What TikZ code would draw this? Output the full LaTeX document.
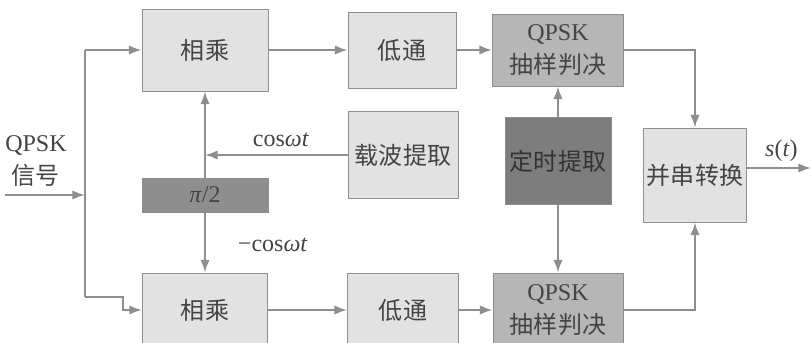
\documentclass[tikz,border=0pt]{standalone}
\usepackage{fontspec}
\setmainfont{Liberation Serif}
\newfontfamily\cjk{Noto Sans CJK SC}
\usetikzlibrary{arrows.meta,positioning,calc}
\definecolor{boxlight}{HTML}{E2E2E2}
\definecolor{boxmid}{HTML}{B6B6B6}
\definecolor{boxdark}{HTML}{7D7D7D}
\definecolor{boxphase}{HTML}{8E8E8E}
\definecolor{rulegray}{HTML}{8E8E8E}
\definecolor{inkgray}{HTML}{444444}
\newcommand\zh[1]{{\cjk #1}}

\begin{document}
\begin{tikzpicture}[
    x=0.03cm,y=-0.03cm,
    font=\fontsize{20.5}{28}\selectfont,
    text=inkgray,
    block/.style={draw=rulegray,line width=0.8pt,fill=boxlight,align=center,inner sep=0pt},
    decide/.style={block,fill=boxmid},
    arrow/.style={-{Latex[length=3.8mm,width=2.8mm]},line width=1.6pt,draw=rulegray},
    wire/.style={line width=1.6pt,draw=rulegray}
  ]
    \useasboundingbox (0,0) rectangle (811,343);

    \node[block,minimum width=3.78cm,minimum height=2.46cm] (m1) at (205,50) {\zh{相乘}};
    \node[block,minimum width=3.24cm,minimum height=2.28cm] (lp1) at (402,50) {\zh{低通}};
    \node[decide,minimum width=3.93cm,minimum height=2.16cm] (d1) at (558,50) {QPSK\\\zh{抽样判决}};
    \node[block,minimum width=3.3cm,minimum height=2.61cm] (car) at (403,155) {\zh{载波提取}};
    \node[block,fill=boxdark,text=black!80,minimum width=3.18cm,minimum height=2.61cm] (tim) at (558,161) {\zh{定时提取}};
    \node[block,fill=boxphase,minimum width=3.78cm,minimum height=1.02cm] (ph) at (205,195) {\textit{π}/2};
    \node[block,minimum width=3.1cm,minimum height=2.82cm] (ps) at (695,175) {\zh{并串转换}};
    \node[block,minimum width=3.75cm,minimum height=2.22cm] (m2) at (205,310) {\zh{相乘}};
    \node[block,minimum width=3.33cm,minimum height=2.22cm] (lp2) at (403,310) {\zh{低通}};
    \node[decide,minimum width=3.9cm,minimum height=2.22cm] (d2) at (558,310) {QPSK\\\zh{抽样判决}};

    \node[align=center] (qin) at (36,161) {QPSK\\\zh{信号}};
    \coordinate (src) at (5,195);
    \coordinate (split) at (85,195);
    \coordinate (jn) at (ph.north |- car.west);
    \coordinate (out) at (811,168);

    % input splitter
    \draw[arrow] (src) -- (split);
    \draw[wire] (split |- m1.west) -- (split |- 0,297);
    \draw[arrow] (split |- m1.west) -- (m1.west);
    \draw[arrow] (split |- 0,297) -- (123,297) -- (123,310) -- (m2.west);

    % upper and lower branches
    \draw[arrow] (m1) -- (lp1);
    \draw[arrow] (lp1) -- (d1);
    \draw[arrow] (m2) -- (lp2);
    \draw[arrow] (lp2) -- (d2);

    % carrier
    \draw[arrow] (car.west) -- node[above,yshift=3pt,xshift=4pt]{cos\textit{ωt}} (jn);
    \draw[arrow] (ph.south) -- node[right,xshift=24pt,yshift=-2pt]{−cos\textit{ωt}} (m2.north);
    \draw[arrow] (ph.north) -- (m1.south);

    % timing
    \draw[arrow] (tim.north) -- (d1.south);
    \draw[arrow] (tim.south) -- (d2.north);

    % parallel to serial
    \draw[arrow] (d1.east) -| (ps.north);
    \draw[arrow] (d2.east) -| (ps.south);
    \draw[arrow] (ps.east |- out) -- node[above,yshift=1pt,xshift=2pt]{\textit{s}(\textit{t})} (out);
  \end{tikzpicture}
\end{document}
